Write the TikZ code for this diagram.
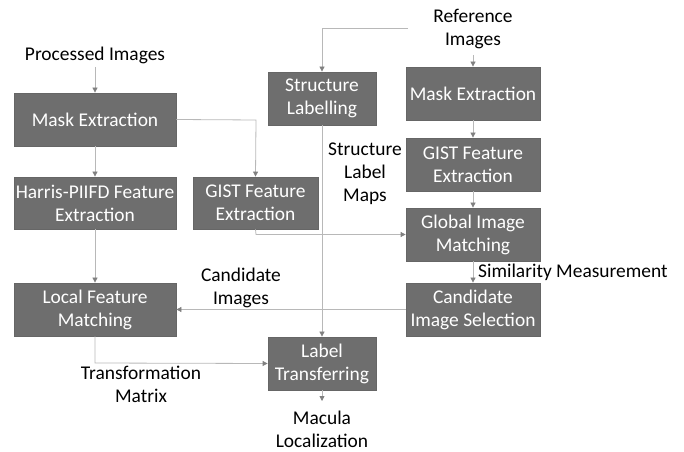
\documentclass[tikz,border=0pt]{standalone}
\usepackage{fontspec}
\setmainfont{Carlito}
\usetikzlibrary{arrows.meta}
\begin{document}
\begin{tikzpicture}[x=1bp,y=-1bp,
  box/.style={draw=black!60,fill=black!57,text=white,line width=0.8bp,inner sep=0pt,align=center,font=\fontsize{19.5}{23}\selectfont},
  lbl/.style={align=center,font=\fontsize{19.5}{23}\selectfont,inner sep=0pt},
  conn/.style={draw=black!28,line width=0.8bp,-{Triangle[length=5bp,width=5bp,fill=black!50,color=black!50]}},
  plain/.style={draw=black!28,line width=0.8bp}]
\useasboundingbox (0,0) rectangle (684,452);
% boxes
\node[box,minimum width=162bp,minimum height=53bp] (me) at (95,119.5) {Mask Extraction};
\node[box,minimum width=162bp,minimum height=52bp] (hp) at (95,203) {Harris-PIIFD Feature\\Extraction};
\node[box,minimum width=125bp,minimum height=52bp] (gm) at (255.5,203) {GIST Feature\\Extraction};
\node[box,minimum width=108bp,minimum height=53bp] (sl) at (322,98.5) {Structure\\Labelling};
\node[box,minimum width=134bp,minimum height=53bp] (rm) at (473,93.5) {Mask Extraction};
\node[box,minimum width=134bp,minimum height=53bp] (rg) at (473,164.5) {GIST Feature\\Extraction};
\node[box,minimum width=134bp,minimum height=53bp] (gi) at (473,234.5) {Global Image\\Matching};
\node[box,minimum width=134bp,minimum height=53bp] (cs) at (473,309.5) {Candidate\\Image Selection};
\node[box,minimum width=162bp,minimum height=53bp] (lf) at (95,309.5) {Local Feature\\Matching};
\node[box,minimum width=108bp,minimum height=53bp] (lt) at (322,363.5) {Label\\Transferring};
% labels
\node[lbl] (pi) at (95,55) {Processed Images};
\node[lbl] (ri) at (473,29) {Reference\\Images};
\node[lbl] (slm) at (365,174) {Structure\\Label\\Maps};
\node[lbl] (ci) at (241,288) {Candidate\\Images};
\node[lbl,anchor=west] (sm) at (478,272) {Similarity Measurement};
\node[lbl] (tm) at (141,384) {Transformation\\Matrix};
\node[lbl] (ml) at (322,429) {Macula\\Localization};
% coordinates
\coordinate (rs) at (408,28);
\coordinate (rc) at (322,28);
\coordinate (mc) at (256,120);
\coordinate (gb) at (256,234.5);
\coordinate (lb) at (95,363);
\coordinate (mlt) at (322,401);
% connectors
\draw[conn] (pi.south |- 0,67) -- (me.north);
\draw[conn] (me) -- (hp);
\draw[conn] (me.east) -- (mc) -- (gm.north);
\draw[conn] (hp) -- (lf);
\draw[conn] (gm.south) -- (gb) -- (gi.west);
\draw[conn] (rs) -- (rc) -- (sl.north);
\draw[conn] (473,55) -- (rm.north);
\draw[conn] (rm) -- (rg);
\draw[conn] (rg) -- (gi);
\draw[conn] (gi) -- (cs);
\draw[conn] (cs.west) -- (lf.east);
\draw[conn] (sl.south) -- (lt.north);
\draw[conn] (lf.south) -- (lb) -- (lt.west);
\draw[conn] (lt.south) -- (mlt);
\end{tikzpicture}
\end{document}
